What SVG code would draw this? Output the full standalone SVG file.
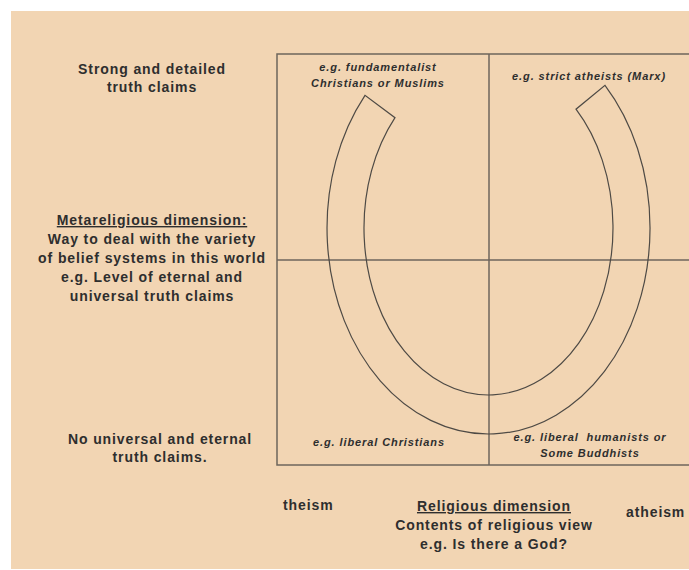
<svg xmlns="http://www.w3.org/2000/svg" width="689" height="570" viewBox="0 0 689 570">
<style>
.t{font-family:"Liberation Sans",Arial,sans-serif;font-weight:bold;font-size:14px;letter-spacing:0.9px;fill:#2e2e2e}
.i{font-family:"Liberation Sans",Arial,sans-serif;font-weight:bold;font-style:italic;font-size:11px;letter-spacing:0.9px;fill:#2e2e2e}
.m{text-anchor:middle}
.ln{stroke:#6e655c;stroke-width:1.5;fill:none}
</style>
<rect x="0" y="0" width="689" height="570" fill="#ffffff"/>
<rect x="11" y="11" width="678" height="558" fill="#F2D5B3"/>
<g id="connectors">
<rect class="ln" x="277" y="54" width="430" height="411"/>
<line class="ln" x1="489" y1="54" x2="489" y2="465"/>
<line class="ln" x1="277" y1="260" x2="689" y2="260"/>
</g>
<g id="horseshoe">
<path d="M 365 95.3 A 161.5 206 0 1 0 605 85.3 L 576 109.2 A 124.5 167 0 1 1 395 117.7 Z" fill="none" stroke="#4e4a45" stroke-width="1.2"/>
</g>
<g id="label-strong">
<text class="t m" x="152" y="74">Strong and detailed</text>
<text class="t m" x="152" y="92">truth claims</text>
</g>
<g id="label-meta">
<text class="t m" x="152" y="225" text-decoration="underline">Metareligious dimension:</text>
<text class="t m" x="152" y="244">Way to deal with the variety</text>
<text class="t m" x="152" y="263">of belief systems in this world</text>
<text class="t m" x="152" y="282">e.g. Level of eternal and</text>
<text class="t m" x="152" y="301">universal truth claims</text>
</g>
<g id="label-no">
<text class="t m" x="160" y="444">No universal and eternal</text>
<text class="t m" x="160" y="462">truth claims.</text>
</g>
<g id="q-fund">
<text class="i m" x="378" y="71">e.g. fundamentalist</text>
<text class="i m" x="378" y="87">Christians or Muslims</text>
</g>
<g id="q-strict">
<text class="i m" x="589" y="80">e.g. strict atheists (Marx)</text>
</g>
<g id="q-libchr">
<text class="i m" x="379" y="446">e.g. liberal Christians</text>
</g>
<g id="q-libhum">
<text class="i m" x="590" y="441">e.g. liberal&#160; humanists or</text>
<text class="i m" x="590" y="457">Some Buddhists</text>
</g>
<g id="label-theism">
<text class="t" x="283" y="510">theism</text>
</g>
<g id="label-religious">
<text class="t m" x="494" y="511" text-decoration="underline">Religious dimension</text>
<text class="t m" x="494" y="530">Contents of religious view</text>
<text class="t m" x="494" y="549">e.g. Is there a God?</text>
</g>
<g id="label-atheism">
<text class="t" x="626" y="517">atheism</text>
</g>
</svg>
